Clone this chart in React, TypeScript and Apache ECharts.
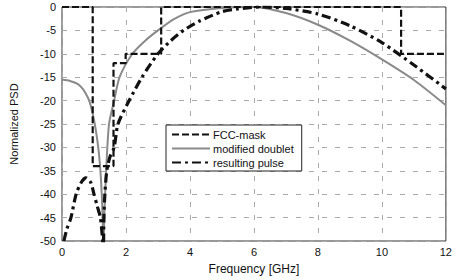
import React, { useEffect, useRef } from "react";
import * as echarts from "echarts";

const maskX = [0, 0.96, 0.96, 1.61, 1.61, 1.99, 1.99, 3.1, 3.1, 10.6, 10.6, 12];
const maskY = [0, 0, -34, -34, -12, -12, -10, -10, 0, 0, -10, -10];

const doubletX = [0, 0.25, 0.5, 0.65, 0.75, 0.85, 0.95, 1.05, 1.15, 1.22, 1.27, 1.29, 1.32, 1.38, 1.47, 1.63, 1.8, 2.2, 2.6, 3.0, 3.5, 4, 5, 6, 7, 8, 9, 10, 11, 12];
const doubletY = [-15.5, -15.8, -16.5, -17.5, -18.6, -20, -22.5, -26, -31, -37, -45, -55, -45, -35, -25, -20, -15, -10, -7.2, -5, -2.6, -1.1, -0.2, 0, -1.3, -3.8, -7.2, -11.2, -15.6, -21];

const pulseX = [0.06, 0.15, 0.28, 0.44, 0.6, 0.75, 0.9, 1.0, 1.1, 1.2, 1.27, 1.29, 1.31, 1.34, 1.4, 1.5, 1.63, 1.75, 2.1, 2.5, 3.0, 3.4, 3.8, 4.3, 5.0, 5.5, 6.2, 7, 8, 9, 10, 11, 12];
const pulseY = [-50, -47.5, -45, -40, -37.5, -36.5, -37.5, -40, -42.5, -45, -50, -55, -45, -40, -35, -32, -30, -25, -20, -15, -10, -7.2, -5, -3, -1, -0.4, 0, -0.3, -1.5, -4, -7.6, -12.4, -17.5];

const seriesNames = ["FCC-mask", "modified doublet", "resulting pulse"];

const zip = (xs: number[], ys: number[]) => xs.map((x, i) => [x, ys[i]]);

export default function App() {
  const ref = useRef<HTMLDivElement>(null);
  useEffect(() => {
    if (!ref.current) return;
    const chart = echarts.init(ref.current, undefined, { renderer: "svg" });
    const font = "Liberation Sans, Arial, sans-serif";
    chart.setOption({
      animation: false,
      backgroundColor: "#fff",
      textStyle: { fontFamily: font },
      grid: {
        left: 61,
        right: 8,
        top: 7,
        bottom: 36,
        show: true,
        borderColor: "#333",
        borderWidth: 1,
      },
      legend: {
        orient: "vertical",
        left: 166,
        top: 125,
        data: seriesNames,
        itemWidth: 38,
        itemHeight: 8,
        itemGap: 3,
        padding: [4, 8, 3, 5],
        borderColor: "#222",
        borderWidth: 1,
        backgroundColor: "#fff",
        itemStyle: { opacity: 0 },
        textStyle: { fontFamily: font, fontSize: 11, color: "#111", padding: [0, 0, 0, -2] },
      },
      xAxis: {
        type: "value",
        min: 0,
        max: 12,
        interval: 2,
        name: "Frequency [GHz]",
        nameLocation: "middle",
        nameGap: 22,
        nameTextStyle: { fontSize: 12, color: "#111", fontFamily: font },
        axisLine: { show: false },
        axisTick: { show: false },
        axisLabel: { fontSize: 11, color: "#111", margin: 5, fontFamily: font },
        splitLine: { show: true, lineStyle: { color: "#aaa", type: [5, 8], width: 1 } },
      },
      yAxis: {
        type: "value",
        min: -50,
        max: 0,
        interval: 5,
        name: "Normalized PSD",
        nameLocation: "middle",
        nameGap: 43,
        nameTextStyle: { fontSize: 11, color: "#111", fontFamily: font },
        axisLine: { show: false },
        axisTick: { show: false },
        axisLabel: { fontSize: 11, color: "#111", margin: 6, fontFamily: font },
        splitLine: { show: true, lineStyle: { color: "#aaa", type: [5, 8], width: 1 } },
      },
      series: [
        {
          name: seriesNames[0],
          type: "line",
          data: zip(maskX, maskY),
          showSymbol: false,
          symbol: "none",
          clip: true,
          lineStyle: { color: "#111", width: 2.2, type: [7, 3] },
          itemStyle: { color: "#111" },
          z: 3,
        },
        {
          name: seriesNames[1],
          type: "line",
          data: zip(doubletX, doubletY),
          showSymbol: false,
          symbol: "none",
          clip: true,
          smooth: 0.25,
          lineStyle: { color: "#8a8a8a", width: 2 },
          itemStyle: { color: "#8a8a8a" },
          z: 2,
        },
        {
          name: seriesNames[2],
          type: "line",
          data: zip(pulseX, pulseY),
          showSymbol: false,
          symbol: "none",
          clip: true,
          smooth: 0.25,
          lineStyle: { color: "#111", width: 3.2, type: [9, 4, 3, 4] },
          itemStyle: { color: "#111" },
          z: 4,
        },
      ],
    });
    return () => chart.dispose();
  }, []);
  return <div ref={ref} style={{ width: 455, height: 280, position: "absolute", left: 0, top: 0 }} />;
}
